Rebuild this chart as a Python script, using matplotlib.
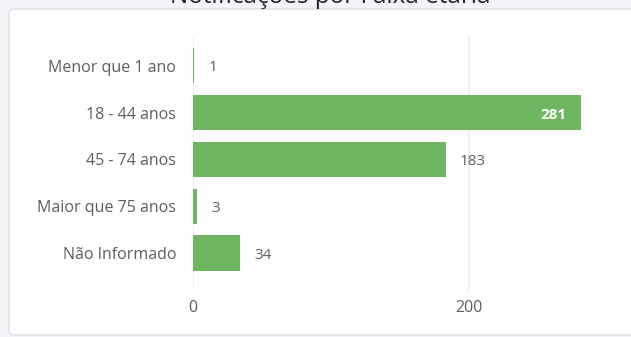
import matplotlib
matplotlib.use("Agg")
import matplotlib.pyplot as plt
from matplotlib.patches import FancyBboxPatch

categories = ["Menor que 1 ano", "18 - 44 anos", "45 - 74 anos", "Maior que 75 anos", "Não Informado"]
values = [1, 281, 183, 3, 34]
xticks = [0, 200]
title = "Notificações por Faixa etária"

W, H = 631, 337
plt.rcParams["font.family"] = ["Open Sans", "DejaVu Sans"]
fig = plt.figure(figsize=(W / 100, H / 100), dpi=100)
fig.patch.set_facecolor("#f3f4f7")

# white card behind the chart
card = FancyBboxPatch((9 / W, 2 / H), 1.2, (H - 11) / H,
                      boxstyle="round,pad=0,rounding_size=0.012",
                      transform=fig.transFigure, facecolor="white",
                      edgecolor="#dfe1e6", linewidth=1.2, zorder=0)
fig.patches.append(card)

fig.text(330 / W, (H - 3) / H, title, ha="center", va="baseline",
         fontsize=17.5, color="#252423", zorder=5)

ax_l, ax_r, ax_t, ax_b = 193, 620, 35, 290
ax = fig.add_axes([ax_l / W, 1 - ax_b / H, (ax_r - ax_l) / W, (ax_b - ax_t) / H])
ax.set_zorder(2)
ax.set_facecolor("none")
px_per_unit = 1.38
ax.set_xlim(0, (ax_r - ax_l) / px_per_unit)
ax.set_ylim(4.79, -0.66)

y = list(range(len(categories)))
ax.barh(y, values, height=0.75, color="#6fb660", zorder=2)

for xt in xticks:
    ax.axvline(xt, color="#ececec", linewidth=1.2, zorder=1)

fs = 11
for yi, v in zip(y, values):
    if v > 250:
        ax.annotate(str(v), (v, yi), xytext=(-14, -2), textcoords="offset pixels",
                    ha="right", va="center", fontsize=fs, color="white",
                    fontweight="bold", zorder=3)
    else:
        ax.annotate(str(v), (v, yi), xytext=(14, -2), textcoords="offset pixels",
                    ha="left", va="center", fontsize=fs, color="#605e5c", zorder=3)

ax.set_yticks(y)
ax.set_yticklabels(categories, fontsize=11.5, color="#605e5c")
ax.set_xticks(xticks)
ax.set_xticklabels([str(t) for t in xticks], fontsize=11.5, color="#605e5c")
ax.tick_params(axis="y", length=0, pad=12)
ax.tick_params(axis="x", length=0, pad=7)
for s in ax.spines.values():
    s.set_visible(False)

fig.savefig("out.png", dpi=100, facecolor=fig.get_facecolor())
